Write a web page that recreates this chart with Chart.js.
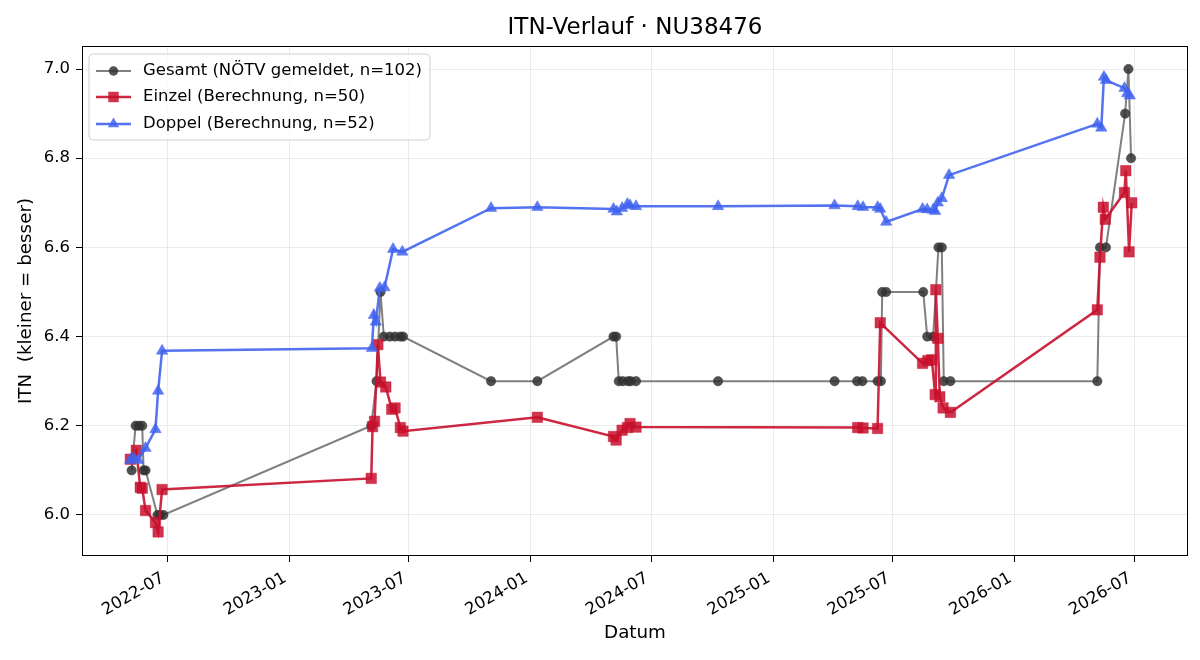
<!DOCTYPE html>
<html>
<head>
<meta charset="utf-8">
<script src="https://cdn.jsdelivr.net/npm/chart.js@4.4.1/dist/chart.umd.min.js"></script>
<style>
html,body{margin:0;padding:0;background:#fff;}
#wrap{width:1200px;height:660px;position:relative;}
</style>
</head>
<body>
<div id="wrap"><canvas id="c" width="1200" height="660"></canvas></div>
<script>
// ---------- DATA ----------
const gesamtDates = ["2022-05-08","2022-05-14","2022-05-19","2022-05-24","2022-05-26","2022-05-29","2022-06-16","2022-06-20","2022-06-25",
  "2023-05-05","2023-05-13","2023-05-19","2023-05-24","2023-06-02","2023-06-10","2023-06-18","2023-06-22",
  "2023-11-02","2024-01-11","2024-05-05","2024-05-09","2024-05-13","2024-05-19","2024-05-27","2024-05-31","2024-06-08",
  "2024-10-10","2025-04-04","2025-05-08","2025-05-16","2025-06-08","2025-06-13","2025-06-15","2025-06-21",
  "2025-08-16","2025-08-22","2025-08-31","2025-09-08","2025-09-13","2025-09-16","2025-09-26",
  "2026-05-06","2026-05-10","2026-05-19","2026-06-17","2026-06-22","2026-06-26"];
const gesamtValues = [6.1,6.2,6.2,6.2,6.1,6.1,6.0,6.0,6.0,
  6.2,6.3,6.5,6.4,6.4,6.4,6.4,6.4,
  6.3,6.3,6.4,6.4,6.3,6.3,6.3,6.3,6.3,
  6.3,6.3,6.3,6.3,6.3,6.3,6.5,6.5,
  6.5,6.4,6.4,6.6,6.6,6.3,6.3,
  6.3,6.6,6.6,6.9,7.0,6.8];

const einzelDates = ["2022-05-06","2022-05-15","2022-05-21","2022-05-24","2022-05-29","2022-06-13","2022-06-17","2022-06-23",
  "2023-05-05","2023-05-07","2023-05-10","2023-05-15","2023-05-19","2023-05-27","2023-06-05","2023-06-10","2023-06-18","2023-06-22",
  "2024-01-11","2024-05-05","2024-05-09","2024-05-18","2024-05-26","2024-05-30","2024-06-08",
  "2025-05-09","2025-05-17","2025-06-08","2025-06-12",
  "2025-08-15","2025-08-23","2025-08-29","2025-09-03","2025-09-04","2025-09-07","2025-09-10","2025-09-15","2025-09-26",
  "2026-05-06","2026-05-10","2026-05-15","2026-05-18","2026-06-16","2026-06-18","2026-06-23","2026-06-27"];
const einzelValues = [6.125,6.145,6.062,6.060,6.010,5.983,5.962,6.057,
  6.082,6.198,6.210,6.382,6.298,6.287,6.237,6.240,6.196,6.188,
  6.219,6.176,6.168,6.190,6.196,6.205,6.197,
  6.196,6.195,6.194,6.431,
  6.340,6.346,6.348,6.270,6.505,6.396,6.265,6.240,6.230,
  6.460,6.578,6.690,6.663,6.723,6.772,6.590,6.700];

const doppelDates = ["2022-05-06","2022-05-11","2022-05-18","2022-05-29","2022-06-13","2022-06-17","2022-06-23",
  "2023-05-06","2023-05-09","2023-05-12","2023-05-18","2023-05-25","2023-06-07","2023-06-21",
  "2023-11-02","2024-01-11","2024-05-05","2024-05-10","2024-05-18","2024-05-26","2024-05-30","2024-06-08",
  "2024-10-10","2025-04-04","2025-05-09","2025-05-17","2025-06-08","2025-06-12","2025-06-21",
  "2025-08-15","2025-08-22","2025-08-31","2025-09-03","2025-09-07","2025-09-13","2025-09-24",
  "2026-05-06","2026-05-12","2026-05-16","2026-05-19","2026-06-16","2026-06-20","2026-06-24"];
const doppelValues = [6.123,6.128,6.123,6.150,6.192,6.278,6.368,
  6.374,6.448,6.433,6.509,6.510,6.596,6.590,
  6.688,6.690,6.686,6.680,6.688,6.697,6.694,6.692,
  6.692,6.694,6.692,6.690,6.690,6.686,6.657,
  6.686,6.685,6.684,6.681,6.700,6.710,6.762,
  6.877,6.868,6.982,6.975,6.957,6.945,6.940];

const xTickLabels = ["2022-07","2023-01","2023-07","2024-01","2024-07","2025-01","2025-07","2026-01","2026-07"];
const yTickValues = [6.0,6.2,6.4,6.6,6.8,7.0];
const seriesLabels = ["Gesamt (NÖTV gemeldet, n=102)","Einzel (Berechnung, n=50)","Doppel (Berechnung, n=52)"];
const titleText = "ITN-Verlauf · NU38476";
const xAxisTitle = "Datum";
const yAxisTitle = "ITN  (kleiner = besser)";
const xRange = ["2022-02-22","2026-09-20"];
const yRange = [5.908,7.0516];

// ---------- HELPERS ----------
const ts = s => { const [y,m,d] = s.split("-").map(Number); return Date.UTC(y, m-1, d || 1); };
const pts = (ds, vs) => ds.map((d,i) => ({x: ts(d), y: vs[i]}));
const FONT = "'DejaVu Sans', 'Liberation Sans', sans-serif";
const TICK_PX = 16.5, LEGEND_PX = 16.5, LABEL_PX = 18.3, TITLE_PX = 23;

const GRAY_LINE = "rgba(60,60,60,0.65)", GRAY_PT = "rgba(50,50,50,0.85)";
const RED_LINE = "rgba(200,16,46,0.9)", RED_PT = "rgba(200,16,46,0.85)";
const BLUE_LINE = "rgba(65,100,240,0.9)", BLUE_PT = "rgba(65,100,240,0.85)";

const styles = [
  {line: GRAY_LINE, pt: GRAY_PT, style: "circle", r: 4.7, w: 2},
  {line: RED_LINE, pt: RED_PT, style: "rect", r: 7.4, w: 2.5},
  {line: BLUE_LINE, pt: BLUE_PT, style: "triangle", r: 6.6, w: 2.5}
];

function drawMarker(ctx, style, x, y, r, color) {
  ctx.save();
  ctx.fillStyle = color;
  ctx.beginPath();
  if (style === "circle") {
    ctx.arc(x, y, r, 0, Math.PI*2);
  } else if (style === "rect") {
    const s = Math.SQRT1_2 * r;
    ctx.rect(x - s, y - s, 2*s, 2*s);
  } else {
    let a = 0;
    ctx.moveTo(x + Math.sin(a)*r, y - Math.cos(a)*r);
    a += 2*Math.PI/3; ctx.lineTo(x + Math.sin(a)*r, y - Math.cos(a)*r);
    a += 2*Math.PI/3; ctx.lineTo(x + Math.sin(a)*r, y - Math.cos(a)*r);
    ctx.closePath();
  }
  ctx.fill();
  ctx.restore();
}

const decor = {
  id: "decor",
  afterDraw(chart) {
    const ctx = chart.ctx, a = chart.chartArea;
    const xs = chart.scales.x;
    ctx.save();
    // frame
    ctx.strokeStyle = "#000"; ctx.lineWidth = 1;
    ctx.strokeRect(Math.round(a.left)+0.5, Math.round(a.top)+0.5, Math.round(a.right-a.left)-1, Math.round(a.bottom-a.top)-1);
    // x tick labels rotated 30 deg, bbox right-aligned at tick
    ctx.fillStyle = "#000";
    ctx.font = TICK_PX + "px " + FONT;
    const ang = 30*Math.PI/180, h = TICK_PX*1.164, desc = TICK_PX*0.236;
    xTickLabels.forEach(lbl => {
      const x = xs.getPixelForValue(ts(lbl + "-01"));
      ctx.save();
      ctx.translate(x, a.bottom + 11.5 + h*Math.cos(ang));
      ctx.rotate(-ang);
      ctx.textAlign = "right"; ctx.textBaseline = "alphabetic";
      ctx.fillText(lbl, 0, -desc);
      ctx.restore();
    });
    // title
    ctx.font = TITLE_PX + "px " + FONT;
    ctx.textAlign = "center"; ctx.textBaseline = "middle";
    ctx.fillText(titleText, (a.left+a.right)/2, 28);
    // axis titles
    ctx.font = LABEL_PX + "px " + FONT;
    ctx.fillText(xAxisTitle, (a.left+a.right)/2, 633);
    ctx.save();
    ctx.translate(26, (a.top+a.bottom)/2);
    ctx.rotate(-Math.PI/2);
    ctx.fillText(yAxisTitle, 0, 0);
    ctx.restore();
    // legend
    const lx = 89, ly = 54, lw = 341, lh = 86, rr = 4;
    ctx.beginPath();
    ctx.moveTo(lx+rr, ly); ctx.lineTo(lx+lw-rr, ly); ctx.quadraticCurveTo(lx+lw, ly, lx+lw, ly+rr);
    ctx.lineTo(lx+lw, ly+lh-rr); ctx.quadraticCurveTo(lx+lw, ly+lh, lx+lw-rr, ly+lh);
    ctx.lineTo(lx+rr, ly+lh); ctx.quadraticCurveTo(lx, ly+lh, lx, ly+lh-rr);
    ctx.lineTo(lx, ly+rr); ctx.quadraticCurveTo(lx, ly, lx+rr, ly);
    ctx.closePath();
    ctx.fillStyle = "rgba(255,255,255,0.8)"; ctx.fill();
    ctx.strokeStyle = "#d0d0d0"; ctx.lineWidth = 1; ctx.stroke();
    const rows = [71, 97, 124];
    seriesLabels.forEach((lbl, i) => {
      const st = styles[i], y = rows[i];
      ctx.strokeStyle = st.line; ctx.lineWidth = st.w;
      ctx.beginPath(); ctx.moveTo(96, y); ctx.lineTo(131, y); ctx.stroke();
      drawMarker(ctx, st.style, 113.5, y, st.r, st.pt);
      ctx.fillStyle = "#000"; ctx.font = LEGEND_PX + "px " + FONT;
      ctx.textAlign = "left"; ctx.textBaseline = "middle";
      ctx.fillText(lbl, 143, y);
    });
    ctx.restore();
  }
};

const mk = (i, ds, vs, order) => ({
  label: seriesLabels[i],
  data: pts(ds, vs),
  borderColor: styles[i].line,
  borderWidth: styles[i].w,
  pointStyle: styles[i].style,
  pointRadius: styles[i].r,
  pointBackgroundColor: styles[i].pt,
  pointBorderColor: styles[i].pt,
  pointBorderWidth: 0.5,
  tension: 0,
  fill: false,
  order: order
});

new Chart(document.getElementById("c"), {
  type: "line",
  data: {
    datasets: [
      mk(0, gesamtDates, gesamtValues, 2),
      mk(1, einzelDates, einzelValues, 1),
      mk(2, doppelDates, doppelValues, 0)
    ]
  },
  options: {
    responsive: false,
    devicePixelRatio: 1,
    animation: false,
    events: [],
    layout: {padding: {top: 46, right: 12, left: 0, bottom: 0}},
    plugins: {legend: {display: false}, title: {display: false}, tooltip: {enabled: false}},
    scales: {
      x: {
        type: "linear",
        min: ts(xRange[0]), max: ts(xRange[1]),
        afterBuildTicks: s => { s.ticks = xTickLabels.map(l => ({value: ts(l + "-01")})); },
        afterFit: s => { s.height = 104; },
        ticks: {display: false},
        grid: {color: "#e6e6e6", lineWidth: 0.8, tickColor: "#000", tickLength: 6, tickWidth: 1},
        border: {display: false}
      },
      y: {
        type: "linear",
        min: yRange[0], max: yRange[1],
        afterBuildTicks: s => { s.ticks = yTickValues.map(v => ({value: v})); },
        afterFit: s => { s.width = 82; },
        ticks: {callback: v => Number(v).toFixed(1), color: "#000", font: {family: FONT, size: TICK_PX}, padding: 6},
        grid: {color: "#e6e6e6", lineWidth: 0.8, tickColor: "#000", tickLength: 6, tickWidth: 1},
        border: {display: false}
      }
    }
  },
  plugins: [decor]
});
</script>
</body>
</html>
